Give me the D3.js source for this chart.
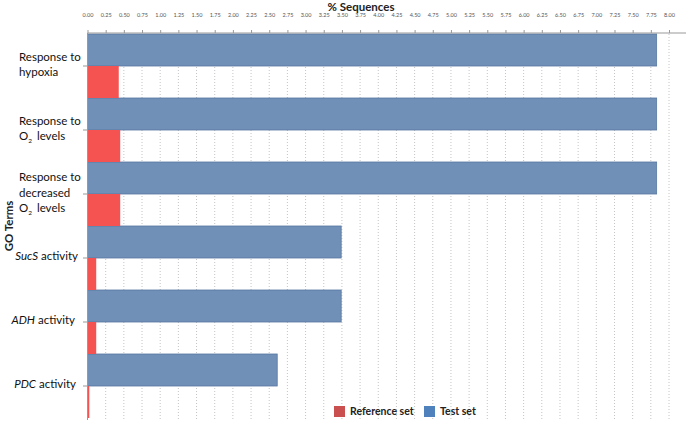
<!DOCTYPE html>
<html><head><meta charset="utf-8">
<script src="https://cdn.jsdelivr.net/npm/d3@7"></script>
<style>body{margin:0;background:#fff}svg{display:block}text{font-family:Lato,"Open Sans",sans-serif}</style>
</head><body><svg id="c" width="689" height="435"></svg>
<script>
const categories = ["hypoxia","o2","decreased","sucs","adh","pdc"];
const testSet = [7.83, 7.83, 7.83, 3.49, 3.49, 2.61];
const referenceSet = [0.43, 0.45, 0.45, 0.12, 0.12, 0.025];
const tickValues = d3.range(0, 8.0001, 0.25);
const seriesNames = ["Reference set", "Test set"];

const svg = d3.select("#c");
const x = d3.scaleLinear().domain([0, 8]).range([87.5, 669]);
const y = d3.scaleBand().domain(categories).range([34, 418]).padding(0);
const sub = d3.scaleBand().domain(["test","ref"]).range([0, y.bandwidth()]);
const blue = "#7190b8", red = "#f55252";

// grid
svg.append("g").selectAll("line").data(tickValues.filter(d => d > 0)).join("line")
  .attr("x1", d => x(d)).attr("x2", d => x(d)).attr("y1", 34).attr("y2", 420)
  .attr("stroke", "#c4c4c4").attr("stroke-width", 1).attr("stroke-dasharray", "1,2");

// bars
const g = svg.append("g");
g.selectAll("rect.t").data(categories).join("rect").attr("class","t")
  .attr("x", x(0)).attr("y", (d) => y(d) + sub("test"))
  .attr("width", (d,i) => x(testSet[i]) - x(0)).attr("height", sub.bandwidth())
  .attr("fill", blue).attr("stroke", "#5877a0").attr("stroke-width", 0.8);
g.selectAll("rect.r").data(categories).join("rect").attr("class","r")
  .attr("x", x(0)).attr("y", (d) => y(d) + sub("ref"))
  .attr("width", (d,i) => x(referenceSet[i]) - x(0)).attr("height", sub.bandwidth())
  .attr("fill", red);

// top axis
const ax = svg.append("g").attr("transform", "translate(0,33)")
  .call(d3.axisTop(x).tickValues(tickValues).tickFormat(d3.format(".2f")).tickSize(3).tickPadding(13));
ax.select(".domain").attr("stroke", "#999").attr("d", "M87.5,0H686");
ax.selectAll(".tick line").attr("stroke", "#999");
ax.selectAll("text").attr("font-size", 5.5).attr("fill", "#555");

// left axis line & ticks
svg.append("line").attr("x1", 87.5).attr("x2", 87.5).attr("y1", 33).attr("y2", 420).attr("stroke", "#999");
svg.append("g").selectAll("line").data(categories).join("line")
  .attr("x1", 83).attr("x2", 87.5).attr("y1", d => y(d) + y.bandwidth()/2).attr("y2", d => y(d) + y.bandwidth()/2)
  .attr("stroke", "#999");

// category labels
const fs = 11.5;
function multi(lines, cy) {
  const n = lines.length, lh = 15.5;
  lines.forEach((ln, k) => {
    const t = svg.append("text").attr("x", 19).attr("y", cy - 2 + (k - (n-1)/2) * lh + 4.5)
      .attr("font-size", fs).attr("fill", "#111");
    ln(t);
  });
}
const c = d => y(d) + y.bandwidth()/2;
const plain = s => t => t.text(s);
const o2 = t => { t.append("tspan").text("O"); t.append("tspan").attr("font-size", 6.5).attr("dy", 3).text("2");
  t.append("tspan").attr("dy", -3).attr("dx", 2).text(" levels"); };
multi([plain("Response to"), plain("hypoxia")], c("hypoxia"));
multi([plain("Response to"), o2], c("o2"));
multi([plain("Response to"), plain("decreased"), o2], c("decreased"));
const single = [["sucs","SucS"],["adh","ADH"],["pdc","PDC"]];
const endX = {sucs: 78, adh: 75, pdc: 76};
single.forEach(([k, it]) => {
  const t = svg.append("text").attr("x", endX[k]).attr("y", c(k) + 1.5).attr("text-anchor", "end")
    .attr("font-size", fs).attr("fill", "#111");
  t.append("tspan").attr("font-style", "italic").text(it);
  t.append("tspan").text(" activity");
});

// titles
svg.append("text").attr("x", 361).attr("y", 10.5).attr("text-anchor", "middle")
  .attr("font-size", 11.5).attr("font-weight", "bold").attr("fill", "#222").text("% Sequences");
svg.append("text").attr("transform", "translate(12.5,226) rotate(-90)").attr("text-anchor", "middle")
  .attr("font-size", 11.5).attr("font-weight", "bold").attr("fill", "#222").text("GO Terms");

// legend
const leg = [{n: seriesNames[0], c: "#c9504e", x: 334}, {n: seriesNames[1], c: "#4f81bd", x: 424}];
leg.forEach(l => {
  svg.append("rect").attr("x", l.x).attr("y", 406).attr("width", 11).attr("height", 11).attr("fill", l.c);
  svg.append("text").attr("x", l.x + 16).attr("y", 415).attr("font-size", 10.5).attr("font-weight", "bold")
    .attr("fill", "#222").text(l.n);
});
</script></body></html>
